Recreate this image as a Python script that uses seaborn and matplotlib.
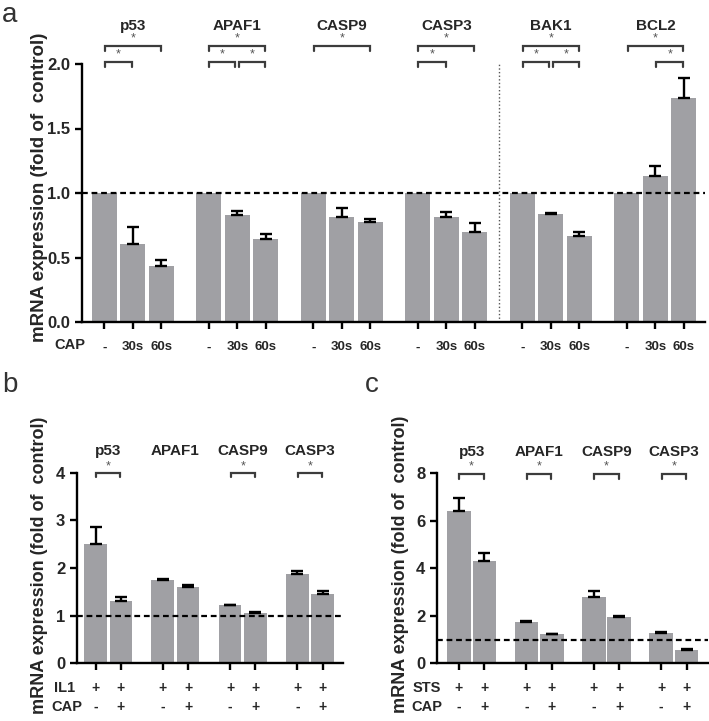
import numpy as np
import pandas as pd
import matplotlib
matplotlib.use("Agg")
import matplotlib.pyplot as plt
import seaborn as sns
from matplotlib.transforms import blended_transform_factory as btf

# ---------------- data ----------------
a_genes = ["p53", "APAF1", "CASP9", "CASP3", "BAK1", "BCL2"]
a_conditions = ["-", "30s", "60s"]
a_mean = [1.0, 0.605, 0.436,
          1.0, 0.830, 0.643,
          1.0, 0.814, 0.775,
          1.0, 0.814, 0.695,
          1.0, 0.837, 0.667,
          1.0, 1.129, 1.739]
a_err = [0.0, 0.132, 0.044,
         0.0, 0.033, 0.042,
         0.0, 0.070, 0.025,
         0.0, 0.036, 0.072,
         0.0, 0.008, 0.028,
         0.0, 0.083, 0.151]
# (gene index, bar i, bar j, level) level 0 = lower row, 1 = upper row
a_brackets = [(0, 0, 2, 1), (0, 0, 1, 0),
              (1, 0, 2, 1), (1, 0, 1, 0), (1, 1, 2, 0),
              (2, 0, 2, 1),
              (3, 0, 2, 1), (3, 0, 1, 0),
              (4, 0, 2, 1), (4, 0, 1, 0), (4, 1, 2, 0),
              (5, 0, 2, 1), (5, 1, 2, 0)]

bc_genes = ["p53", "APAF1", "CASP9", "CASP3"]
b_mean = [2.495, 1.306, 1.740, 1.600, 1.222, 1.048, 1.866, 1.460]
b_err = [0.370, 0.085, 0.035, 0.040, 0.010, 0.022, 0.075, 0.060]
b_row1 = ["+", "+", "+", "+", "+", "+", "+", "+"]
b_row2 = ["-", "+", "-", "+", "-", "+", "-", "+"]
b_rowlabels = ["IL1", "CAP"]
b_brackets = [(0, 0, 1, 0), (2, 0, 1, 0), (3, 0, 1, 0)]

c_mean = [6.41, 4.31, 1.74, 1.22, 2.78, 1.95, 1.28, 0.57]
c_err = [0.55, 0.32, 0.04, 0.02, 0.28, 0.05, 0.03, 0.05]
c_row1 = ["+", "+", "+", "+", "+", "+", "+", "+"]
c_row2 = ["-", "+", "-", "+", "-", "+", "-", "+"]
c_rowlabels = ["STS", "CAP"]
c_brackets = [(0, 0, 1, 0), (1, 0, 1, 0), (2, 0, 1, 0), (3, 0, 1, 0)]

ylabel_text = "mRNA expression (fold of  control)"

# ---------------- style ----------------
sns.set_style("ticks")
plt.rcParams["font.family"] = ["Liberation Sans", "DejaVu Sans"]
plt.rcParams["font.weight"] = "bold"
BAR = "#a0a0a4"
BRK = "#3c3c3c"
LW = 1.7

fig = plt.figure(figsize=(7.09, 7.21), dpi=100)


def draw_panel(ax, genes, mean, err, nper, step, width, xlim, ylim, yticks,
               yticklabels, brackets, br_y, br_tip, star_y, gene_y):
    pos = [g * step + j for g in range(len(genes)) for j in range(nper)]
    df = pd.DataFrame({"pos": pos, "value": mean})
    sns.barplot(data=df, x="pos", y="value", native_scale=True, width=width,
                color=BAR, saturation=1, errorbar=None, ax=ax, linewidth=0,
                zorder=2)
    pos_a = np.array(pos, dtype=float)
    mean_a = np.array(mean)
    err_a = np.array(err)
    m = err_a > 0
    ax.errorbar(pos_a[m], mean_a[m], yerr=[np.zeros(m.sum()), err_a[m]],
                fmt="none", ecolor="black", elinewidth=LW, capsize=4,
                capthick=LW, zorder=3)
    ax.axhline(1.0, color="black", lw=1.6, ls=(0, (2.6, 1.7)), zorder=4)
    ax.set_xlim(*xlim)
    ax.set_ylim(*ylim)
    ax.set_yticks(yticks)
    ax.set_yticklabels(yticklabels, fontsize=12, fontweight="bold")
    ax.set_xticks(pos)
    ax.set_xlabel("")
    ax.set_ylabel("")
    sns.despine(ax=ax)
    for s in ("left", "bottom"):
        ax.spines[s].set_linewidth(LW)
        ax.spines[s].set_color("black")
    ax.tick_params(axis="both", width=LW, length=5, color="black")
    tr = btf(ax.transData, ax.transAxes)
    pairs = {(g, i, j) for g, i, j, _ in brackets}
    for g, i, j, lev in brackets:
        # leave a small gap where two adjacent brackets meet
        s0 = 0.07 if (g, i - 1, i) in pairs else 0.02
        s1 = 0.07 if (g, j, j + 1) in pairs else 0.02
        x0 = g * step + i + s0
        x1 = g * step + j - s1
        y = br_y[lev]
        ax.plot([x0, x0, x1, x1], [y - br_tip, y, y, y - br_tip], color=BRK,
                lw=1.6, transform=tr, clip_on=False, solid_joinstyle="miter")
        ax.text((x0 + x1) / 2, star_y[lev], "*", transform=tr, ha="center",
                va="center", fontsize=9, color="#555555", fontweight="normal")
    for g, name in enumerate(genes):
        ax.text(g * step + (nper - 1) / 2, gene_y, name, transform=tr,
                ha="center", va="center", fontsize=11, fontweight="bold")
    return pos, tr


# ---------------- panel a ----------------
axa = fig.add_axes([82 / 709, 1 - 322 / 721, 623 / 709, 258 / 721])
step_a = 3.67
pos_a, tra = draw_panel(axa, a_genes, a_mean, a_err, 3, step_a, 0.877,
                        (-0.78, 5 * step_a + 2 + 0.74), (0, 2.0),
                        [0, 0.5, 1.0, 1.5, 2.0],
                        ["0.0", "0.5", "1.0", "1.5", "2.0"],
                        a_brackets, {0: 1.007, 1: 1.069}, 0.018,
                        {0: 1.037, 1: 1.100}, 1.147)
axa.set_xticklabels(a_conditions * len(a_genes), fontsize=9.5,
                    fontweight="bold")
axa.tick_params(axis="x", pad=9)
axa.text(-0.019, -0.089, "CAP", transform=axa.transAxes, ha="center",
         va="center", fontsize=10.5, fontweight="bold")
xsep = (3 * step_a + 2 + 4 * step_a) / 2
axa.plot([xsep, xsep], [0, 2.0], color="#555555", lw=1.0, ls=(0, (1, 1.6)),
         zorder=1)
axa.set_ylabel(ylabel_text, fontsize=13.5, fontweight="bold")
axa.yaxis.set_label_coords(-0.069, 0.521)
axa.yaxis.label.set(va="center", ha="center", rotation_mode="default")

# ---------------- panel b ----------------
axb = fig.add_axes([77 / 709, 1 - 663.3 / 721, 266 / 709, 190.6 / 721])
step_bc = 2.65
pos_b, trb = draw_panel(axb, bc_genes, b_mean, b_err, 2, step_bc, 0.89,
                        (-0.73, 3 * step_bc + 1 + 0.8), (0, 4),
                        [0, 1, 2, 3, 4], ["0", "1", "2", "3", "4"],
                        b_brackets, {0: 1.0}, 0.025, {0: 1.035}, 1.112)
axb.set_xticklabels([])
for p, t1, t2 in zip(pos_b, b_row1, b_row2):
    axb.text(p, -0.131, t1, transform=trb, ha="center", va="center",
             fontsize=10, fontweight="bold")
    axb.text(p, -0.228, t2, transform=trb, ha="center", va="center",
             fontsize=10, fontweight="bold")
axb.text((54 - 77) / 266, -0.131, b_rowlabels[0], transform=axb.transAxes,
         ha="left", va="center", fontsize=10.5, fontweight="bold")
axb.text((51 - 77) / 266, -0.228, b_rowlabels[1], transform=axb.transAxes,
         ha="left", va="center", fontsize=10.5, fontweight="bold")
axb.set_ylabel(ylabel_text, fontsize=13, fontweight="bold")
axb.yaxis.set_label_coords((40 - 77) / 266, 0.516)
axb.yaxis.label.set(va="center", ha="center", rotation_mode="default")

# ---------------- panel c ----------------
axc = fig.add_axes([437.3 / 709, 1 - 663.3 / 721, 270.7 / 709, 190 / 721])
pos_c, trc = draw_panel(axc, bc_genes, c_mean, c_err, 2, step_bc, 0.93,
                        (-0.85, 3 * step_bc + 1 + 0.84), (0, 8),
                        [0, 2, 4, 6, 8], ["0", "2", "4", "6", "8"],
                        c_brackets, {0: 0.995}, 0.025, {0: 1.035}, 1.11)
axc.set_xticklabels([])
for p, t1, t2 in zip(pos_c, c_row1, c_row2):
    axc.text(p, -0.132, t1, transform=trc, ha="center", va="center",
             fontsize=10, fontweight="bold")
    axc.text(p, -0.228, t2, transform=trc, ha="center", va="center",
             fontsize=10, fontweight="bold")
axc.text((413 - 437.3) / 270.7, -0.132, c_rowlabels[0],
         transform=axc.transAxes, ha="left", va="center", fontsize=10.5,
         fontweight="bold")
axc.text((411 - 437.3) / 270.7, -0.228, c_rowlabels[1],
         transform=axc.transAxes, ha="left", va="center", fontsize=10.5,
         fontweight="bold")
axc.set_ylabel(ylabel_text, fontsize=13, fontweight="bold")
axc.yaxis.set_label_coords((401 - 437.3) / 270.7, 0.52)
axc.yaxis.label.set(va="center", ha="center", rotation_mode="default")

# ---------------- panel letters ----------------
for lab, x, y in [("a", 2, 22), ("b", 2, 392), ("c", 365, 391.7)]:
    fig.text(x / 709, 1 - y / 721, lab, fontsize=20, fontweight="normal",
             color="#333333", ha="left", va="baseline")

fig.savefig("out.png", dpi=100)
